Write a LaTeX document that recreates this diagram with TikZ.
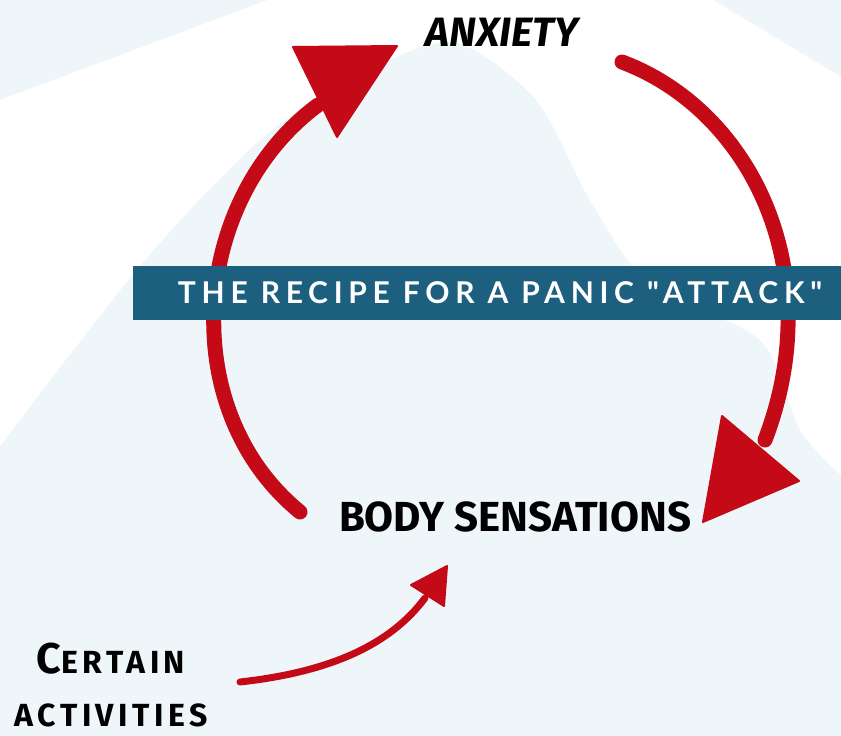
\documentclass[tikz,border=0pt]{standalone}
\usepackage{fontspec}
\newfontfamily\handfont{Fira Sans}
\newfontfamily\bannerfont[LetterSpace=19]{Lato}
\definecolor{panicred}{HTML}{C40A16}
\definecolor{bannerblue}{HTML}{1D5F7F}
\definecolor{paleblue}{HTML}{EEF6FA}
\tikzset{
  loopline/.style={draw=panicred, line width=15pt, line cap=round},
  smallline/.style={draw=panicred, line width=7pt, line cap=round},
  redhead/.style={fill=panicred, draw=panicred, line width=2pt, line join=round}
}
\begin{document}
\begin{tikzpicture}[x=1pt,y=-1pt]

  \useasboundingbox (0,0) rectangle (841,736);
  \fill[paleblue] (0,0) rectangle (841,736);
  \fill[white] plot[smooth] coordinates {(0,446) (145,260) (268,133) (375,67) (456,43)
      (536,100) (590,200) (650,285) (760,340) (800,430) (841,475)}
    -- (841,77) -- (713,0) -- (268,0) -- (0,100) -- cycle;

  \begin{scope}[every node/.style={font=\handfont\bfseries, inner sep=0pt}]
    \node (anxiety) at (502,32)  {\fontsize{41}{41}\selectfont\itshape ANXIETY};
    \node (body)    at (515,517) {\fontsize{42}{42}\selectfont BODY SENSATIONS};
    \node[align=center,
      font=\handfont\bfseries\addfontfeature{LetterSpace=14}\fontsize{32}{53}\selectfont]
      (activities) at (111,685)
      {{\fontsize{43}{43}\selectfont C}ERTAIN\\ ACTIVITIES};
  \end{scope}

  \coordinate (left-tail)  at (300,512);
  \coordinate (left-tip)   at (318,105);
  \coordinate (right-tail) at (622,62);
  \coordinate (right-tip)  at (765,440);
  \coordinate (act-tail)   at (240,682);
  \coordinate (act-tip)    at (425,598);

  \draw[loopline] (left-tail) .. controls (175,410) and (190,200) .. (left-tip);
  \draw[loopline] (right-tail) .. controls (750,110) and (830,270) .. (right-tip);
  \draw[smallline] (act-tail) .. controls (330,672) and (390,645) .. (act-tip);

  \filldraw[redhead] (293,47) -- (397,46) -- (337,137) -- cycle;
  \filldraw[redhead] (722,416) -- (799,481) -- (703,522) -- cycle;
  \filldraw[redhead] (411,585) -- (447,566) -- (444,606) -- cycle;

  \node[fill=bannerblue, minimum width=708pt, minimum height=54pt, inner sep=0pt,
    anchor=west] (banner) at (133,293) {};
  \node[text=white, inner sep=0pt] (title) at (500,293)
    {\bannerfont\bfseries\fontsize{30}{30}\selectfont THE RECIPE FOR A PANIC "ATTACK"};

\end{tikzpicture}
\end{document}
